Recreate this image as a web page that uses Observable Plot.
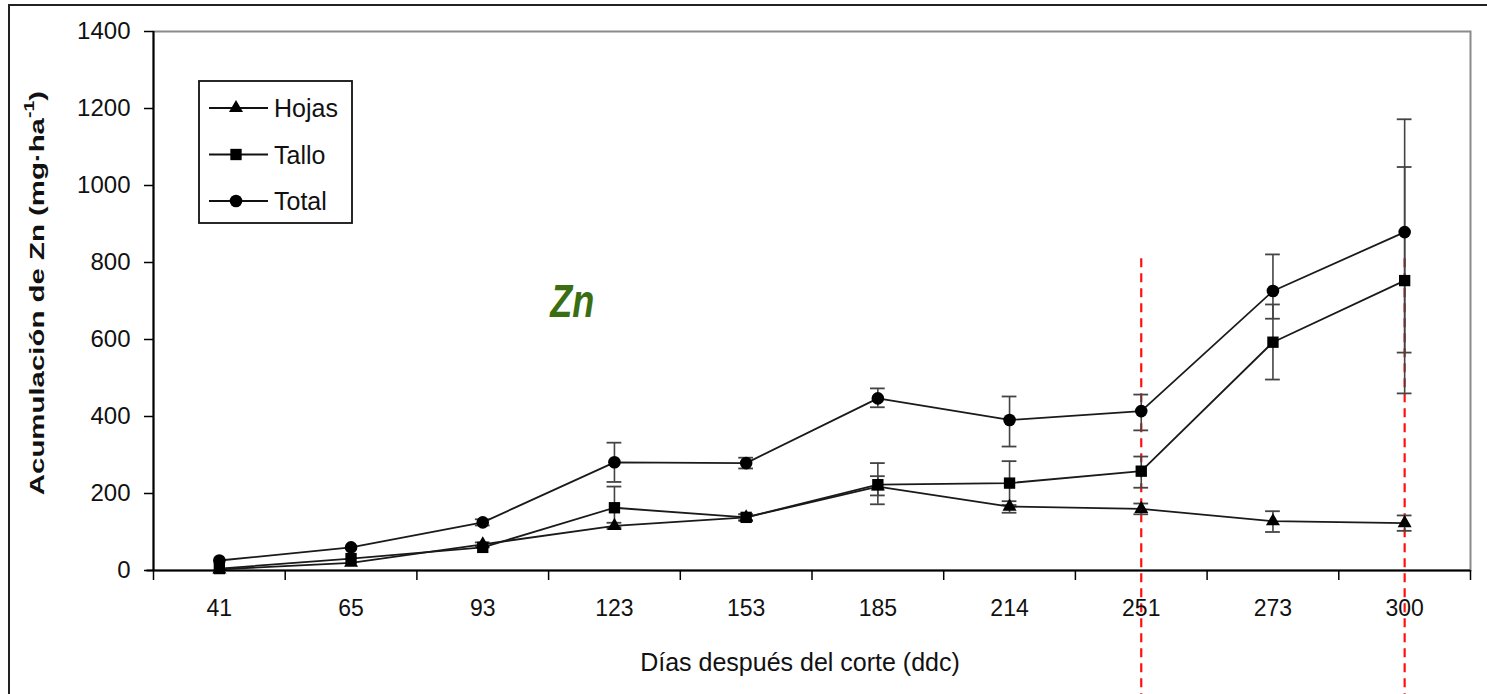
<!DOCTYPE html>
<html>
<head>
<meta charset="utf-8">
<script src="https://cdn.jsdelivr.net/npm/d3@7"></script>
<script src="https://cdn.jsdelivr.net/npm/@observablehq/plot@0.6"></script>
<style>
  body { margin: 0; background: #fff; }
  #chart { position: relative; width: 1487px; height: 694px; overflow: hidden; background: #fff; }
  #chart svg { display: block; }
</style>
</head>
<body>
<div id="chart"></div>
<script>
// Days after cutting (categorical x axis)
const days = ["41", "65", "93", "123", "153", "185", "214", "251", "273", "300"];

// Zn accumulation (mg·ha-1) — leaves
const hojas     = [3, 20, 68, 116, 138, 218, 166, 160, 128, 123];
const hojasLow  = [3, 20, 63, 108, 130, 195, 150, 146, 100, 103];
const hojasHigh = [3, 20, 73, 124, 146, 245, 180, 174, 154, 143];

// Zn accumulation — stem
const tallo     = [5, 31, 60, 163, 138, 223, 227, 258, 593, 753];
const talloLow  = [5, 31, 60, 112, 130, 172, 170, 215, 496, 460];
const talloHigh = [5, 31, 60, 218, 146, 279, 284, 296, 691, 1048];

// Zn accumulation — total
const total     = [26, 60, 125, 281, 279, 447, 391, 414, 726, 879];
const totalLow  = [26, 60, 117, 230, 265, 424, 322, 364, 654, 566];
const totalHigh = [26, 60, 133, 332, 293, 473, 452, 457, 821, 1172];

// Dates highlighted with red dashed guides
const markedDays = ["251", "300"];
const guideTop = 810;
const guideBottom = -330;

// Y axis ticks
const yTicks = [0, 200, 400, 600, 800, 1000, 1200, 1400];

const series = [
  { name: "Hojas", symbol: "triangle", r: 5.2, values: hojas, low: hojasLow, high: hojasHigh },
  { name: "Tallo", symbol: "square",   r: 6.4, values: tallo, low: talloLow, high: talloHigh },
  { name: "Total", symbol: "circle",   r: 6.3, values: total, low: totalLow, high: totalHigh }
];

// Each category sits in the middle of its unit slot on an index scale
const rows = series.flatMap(s => days.map((d, i) => ({
  serie: s.name, day: d, pos: i + 0.5,
  value: s.values[i], low: s.low[i], high: s.high[i]
})));
const errRows = rows.filter(d => d.high - d.low > 0);
const capHalf = 0.056;
const slotEdges = d3.range(days.length + 1);
const slotCenters = days.map((d, i) => i + 0.5);

const font = "'Liberation Sans', Arial, Helvetica, sans-serif";

const plot = Plot.plot({
  width: 1487,
  height: 694,
  marginLeft: 153,
  marginRight: 17,
  marginTop: 31,
  marginBottom: 124,
  style: { fontFamily: font, fontSize: "23px", color: "#111", background: "#fff" },
  x: { type: "linear", domain: [0, days.length] },
  y: { domain: [0, 1400] },
  marks: [
    // plot box (top/right in grey)
    Plot.frame({ stroke: "#8a8a8a", strokeWidth: 2 }),
    // red dashed guides
    Plot.ruleX(markedDays, {
      x: d => days.indexOf(d) + 0.5, y1: guideTop, y2: guideBottom,
      stroke: "#ff1010", strokeWidth: 2.2, strokeDasharray: "9,6"
    }),
    // error bars
    Plot.ruleX(errRows, { x: "pos", y1: "low", y2: "high", stroke: "#444", strokeWidth: 1.6 }),
    Plot.ruleY(errRows, { y: "low", x1: d => d.pos - capHalf, x2: d => d.pos + capHalf, stroke: "#444", strokeWidth: 1.8 }),
    Plot.ruleY(errRows, { y: "high", x1: d => d.pos - capHalf, x2: d => d.pos + capHalf, stroke: "#444", strokeWidth: 1.8 }),
    // series lines
    Plot.line(rows, { x: "pos", y: "value", z: "serie", stroke: "#1a1a1a", strokeWidth: 1.8 }),
    // markers
    ...series.map(s => Plot.dot(rows.filter(d => d.serie === s.name), {
      x: "pos", y: "value", symbol: s.symbol, r: s.r, fill: "#000", stroke: "none"
    })),
    // axis lines
    Plot.ruleX([0], { stroke: "#000", strokeWidth: 2 }),
    Plot.ruleY([0], { x1: -0.05, x2: days.length, stroke: "#000", strokeWidth: 2.2 }),
    // axes
    Plot.axisY({ ticks: yTicks, tickSize: 9, tickPadding: 14, tickFormat: d => String(d), label: null, stroke: "#000", strokeWidth: 1.5, fontSize: 24 }),
    Plot.axisX({ ticks: slotEdges, tickSize: 10, tickFormat: () => "", label: null, stroke: "#000", strokeWidth: 1.5 }),
    Plot.axisX({ ticks: slotCenters, tickSize: 0, tickPadding: 29, tickFormat: t => days[Math.floor(t)], label: null, fontSize: 23 }),
    // element label
    Plot.text(["Zn"], {
      x: 3.18, y: 698, text: d => d, fill: "#3b6e12", fontSize: 46,
      fontWeight: "bold", fontStyle: "italic", fontFamily: font,
      className: "element-label"
    })
  ]
});

document.getElementById("chart").appendChild(plot);

const svg = d3.select(plot);

// narrow the element label
svg.selectAll(".element-label text")
  .attr("textLength", 44).attr("lengthAdjust", "spacingAndGlyphs");

// outer border of the figure
svg.append("rect")
  .attr("x", 9).attr("y", 5).attr("width", 1500).attr("height", 720)
  .attr("fill", "none").attr("stroke", "#222").attr("stroke-width", 2);

// axis titles
svg.append("text")
  .attr("x", 800).attr("y", 662)
  .attr("text-anchor", "middle").attr("dominant-baseline", "central")
  .attr("font-family", font).attr("font-size", 25).attr("fill", "#111")
  .text("Días después del corte (ddc)");

const yt = svg.append("text")
  .attr("transform", "translate(37,293) rotate(-90) scale(1.4,1)")
  .attr("text-anchor", "middle").attr("dominant-baseline", "central")
  .attr("font-family", font).attr("font-size", 21).attr("font-weight", "bold").attr("fill", "#111");
yt.append("tspan").text("Acumulación de Zn (mg·ha");
yt.append("tspan").attr("baseline-shift", "super").attr("font-size", 14).text("-1");
yt.append("tspan").text(")");

// legend box
const lg = svg.append("g");
lg.append("rect")
  .attr("x", 199).attr("y", 81).attr("width", 153).attr("height", 142)
  .attr("fill", "#fff").attr("stroke", "#111").attr("stroke-width", 1.8);
const symbolTypes = { triangle: d3.symbolTriangle, square: d3.symbolSquare, circle: d3.symbolCircle };
series.forEach((s, k) => {
  const cy = 108 + k * 46.5;
  lg.append("line").attr("x1", 209).attr("x2", 268).attr("y1", cy).attr("y2", cy)
    .attr("stroke", "#111").attr("stroke-width", 1.8);
  lg.append("path")
    .attr("d", d3.symbol(symbolTypes[s.symbol], Math.PI * s.r * s.r)())
    .attr("transform", `translate(236,${cy})`).attr("fill", "#000");
  lg.append("text").attr("x", 274).attr("y", cy)
    .attr("text-anchor", "start").attr("dominant-baseline", "central")
    .attr("font-family", font).attr("font-size", 25).attr("fill", "#111")
    .text(s.name);
});
</script>
</body>
</html>
